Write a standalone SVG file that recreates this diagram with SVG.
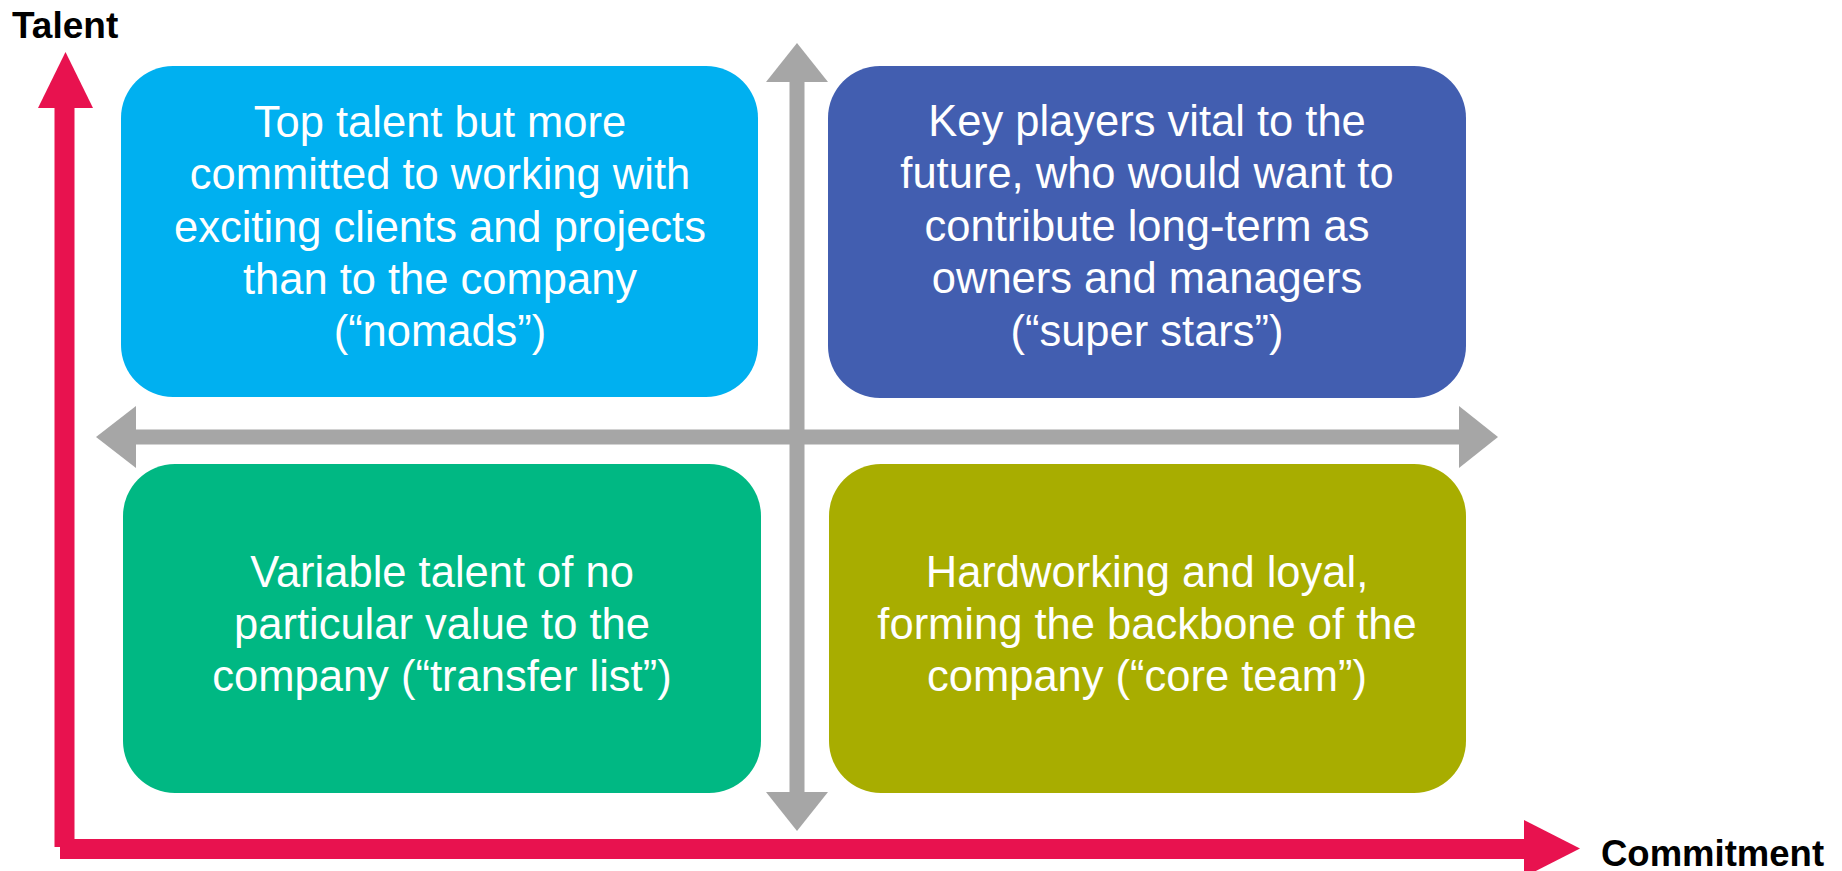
<svg xmlns="http://www.w3.org/2000/svg" width="1842" height="871" viewBox="0 0 1842 871">
<style>
.box text{font-family:"Liberation Sans",Arial,sans-serif;font-size:43.5px;fill:#fff;text-anchor:middle}
.lbl{font-family:"Liberation Sans",Arial,sans-serif;font-weight:bold;fill:#000}
.red{fill:#E8124F}
.gray{fill:#A6A6A6}
</style>
<rect width="1842" height="871" fill="#fff"/>
<g id="axes">
<rect class="red" x="54.5" y="100" width="20" height="747"/>
<polygon class="red" points="65.5,52 38,108 93,108"/>
<rect class="red" x="60" y="839" width="1468" height="20"/>
<polygon class="red" points="1524,820 1580,848.5 1524,877"/>
</g>
<g id="connectors">
<rect class="gray" x="789.5" y="80" width="15" height="714"/>
<polygon class="gray" points="797,43 766,82 828,82"/>
<polygon class="gray" points="766,792 828,792 797,831"/>
<rect class="gray" x="134" y="429.5" width="1327" height="15"/>
<polygon class="gray" points="96,437 136,406 136,468"/>
<polygon class="gray" points="1459,406 1498,437 1459,468"/>
</g>
<g id="nomads" class="box">
<rect x="121" y="66" width="637" height="331" rx="52" fill="#00B0F0"/>
<text x="440" y="137">Top talent but more</text>
<text x="440" y="189">committed to working with</text>
<text x="440" y="242">exciting clients and projects</text>
<text x="440" y="294">than to the company</text>
<text x="440" y="346">(“nomads”)</text>
</g>
<g id="superstars" class="box">
<rect x="828" y="66" width="638" height="332" rx="52" fill="#425EB0"/>
<text x="1147" y="136">Key players vital  to the</text>
<text x="1147" y="188">future, who would want to</text>
<text x="1147" y="241">contribute long-term as</text>
<text x="1147" y="293">owners and managers</text>
<text x="1147" y="346">(“super stars”)</text>
</g>
<g id="transferlist" class="box">
<rect x="123" y="464" width="638" height="329" rx="52" fill="#00B883"/>
<text x="442" y="587">Variable talent of no</text>
<text x="442" y="639">particular value to the</text>
<text x="442" y="691">company (“transfer list”)</text>
</g>
<g id="coreteam" class="box">
<rect x="829" y="464" width="637" height="329" rx="52" fill="#A8AD00"/>
<text x="1147" y="587">Hardworking and loyal,</text>
<text x="1147" y="639">forming the backbone of the</text>
<text x="1147" y="691">company (“core team”)</text>
</g>
<g id="talent-label"><text class="lbl" x="12" y="38" font-size="37">Talent</text></g>
<g id="commitment-label"><text class="lbl" x="1601" y="866" font-size="36.5">Commitment</text></g>
</svg>
